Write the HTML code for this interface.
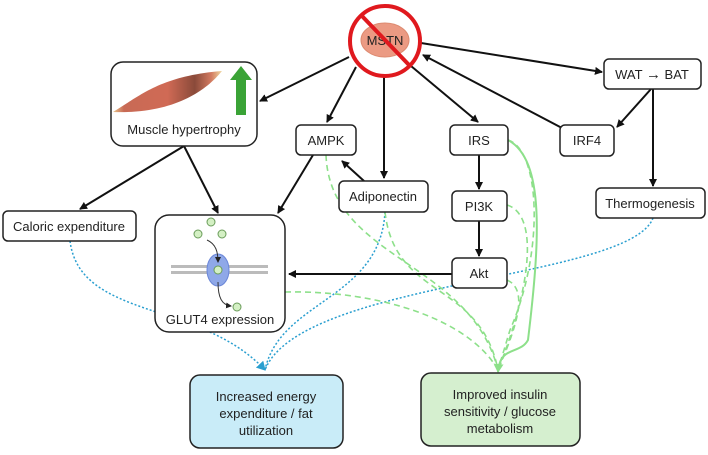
<!DOCTYPE html>
<html><head><meta charset="utf-8"><style>
body{margin:0;background:#fff;}
svg text{font-family:"Liberation Sans",sans-serif;fill:#222;}
</style></head><body>
<svg width="708" height="450" viewBox="0 0 708 450" xmlns="http://www.w3.org/2000/svg">
<defs>
<marker id="a" markerWidth="8" markerHeight="8" refX="7" refY="4" orient="auto" markerUnits="userSpaceOnUse"><path d="M0,0 L8,4 L0,8 z" fill="#111"/></marker>
<marker id="g" markerWidth="10" markerHeight="10" refX="8" refY="5" orient="auto" markerUnits="userSpaceOnUse"><path d="M0,0 L9,5 L0,10 z" fill="#8de08a"/></marker>
<marker id="b" markerWidth="10" markerHeight="10" refX="8" refY="5" orient="auto" markerUnits="userSpaceOnUse"><path d="M0,0 L9,5 L0,10 z" fill="#2a9fd0"/></marker>
<marker id="s" markerWidth="6" markerHeight="6" refX="5" refY="3" orient="auto" markerUnits="userSpaceOnUse"><path d="M0,0 L6,3 L0,6 z" fill="#222"/></marker>
<linearGradient id="m" x1="0" y1="0" x2="1" y2="0"><stop offset="0" stop-color="#e8c48a"/><stop offset="0.1" stop-color="#c86a55"/><stop offset="0.5" stop-color="#d06a55"/><stop offset="0.75" stop-color="#8a4a3a"/><stop offset="0.9" stop-color="#d27a60"/><stop offset="1" stop-color="#f0d9a0"/></linearGradient>
</defs>

<g fill="none" stroke="#2a9fd0" stroke-width="1.5" stroke-dasharray="2,2">
<path d="M70,241 C80,320 200,300 265,370" marker-end="url(#b)"/>
<path d="M385,212 C380,300 280,300 265,370"/>
<path d="M653,218 C630,280 300,280 265,370"/>
</g>
<g fill="none" stroke="#8de08a" stroke-width="1.6" stroke-dasharray="6,4">
<path d="M326,155 C330,260 470,260 498,370"/>
<path d="M385,212 C395,300 480,280 498,370"/>
<path d="M285,292 C380,290 470,320 498,370"/>
<path d="M508,140 C540,150 545,250 510,330 L498,370"/>
<path d="M507,205 C540,215 530,290 498,370"/>
<path d="M507,280 C530,290 515,330 498,370"/>
</g>
<path d="M508,140 C545,160 540,240 528,340 C520,355 500,345 498,372" fill="none" stroke="#8de08a" stroke-width="2" marker-end="url(#g)"/>

<g stroke="#111" stroke-width="2" fill="none" marker-end="url(#a)">
<path d="M349,57 L260,101"/>
<path d="M356,67 L327,122"/>
<path d="M384,76 L384,178"/>
<path d="M411,66 L478,122"/>
<path d="M421,43 L602,72"/>
<path d="M562,128 L423,55"/>
<path d="M651,89 L617,127"/>
<path d="M653,89 L653,186"/>
<path d="M364,181 L342,161"/>
<path d="M313,155 L278,213"/>
<path d="M184,146 L80,209"/>
<path d="M184,146 L218,213"/>
<path d="M479,155 L479,189"/>
<path d="M479,221 L479,256"/>
<path d="M452,274 L289,274"/>
</g>

<ellipse cx="385" cy="40" rx="24" ry="17" fill="#eb9a83" stroke="#dd8a70"/>
<text x="385" y="45" font-size="13" text-anchor="middle">MSTN</text>
<circle cx="385" cy="41" r="35" fill="none" stroke="#e0191e" stroke-width="4"/>
<line x1="361" y1="15" x2="410" y2="66" stroke="#e0191e" stroke-width="4"/>

<g fill="#fff" stroke="#222" stroke-width="1.5">
<rect x="111" y="62" width="146" height="84" rx="12"/>
<rect x="296" y="125" width="60" height="30" rx="5"/>
<rect x="339" y="181" width="89" height="31" rx="5"/>
<rect x="450" y="125" width="58" height="30" rx="5"/>
<rect x="452" y="191" width="55" height="30" rx="5"/>
<rect x="452" y="258" width="55" height="30" rx="5"/>
<rect x="560" y="125" width="54" height="31" rx="5"/>
<rect x="604" y="59" width="97" height="30" rx="5"/>
<rect x="596" y="188" width="109" height="30" rx="5"/>
<rect x="3" y="211" width="133" height="30" rx="5"/>
<rect x="155" y="215" width="130" height="117" rx="14"/>
<rect x="190" y="375" width="153" height="73" rx="10" fill="#c9ecf8"/>
<rect x="421" y="373" width="159" height="73" rx="10" fill="#d5efcf"/>
</g>

<path d="M113,112 C140,96 160,76 222,71 C205,92 172,114 113,112 z" fill="url(#m)"/>
<path d="M236,115 L236,80 L230,80 L241,66 L252,80 L246,80 L246,115 z" fill="#3aa336"/>

<g>
<rect x="171" y="265" width="97" height="3" fill="#bbb"/>
<rect x="171" y="271" width="97" height="3" fill="#bbb"/>
<ellipse cx="218" cy="270" rx="11" ry="16" fill="#8fa8e8" stroke="#6a86d8"/>
<g fill="#d4f0c4" stroke="#6a9c5a" stroke-width="1">
<circle cx="211" cy="222" r="4"/><circle cx="198" cy="234" r="4"/><circle cx="222" cy="234" r="4"/>
<circle cx="218" cy="270" r="4"/><circle cx="237" cy="307" r="4"/>
</g>
<path d="M207,240 C216,244 218,252 218,262" fill="none" stroke="#333" stroke-width="1" marker-end="url(#s)"/>
<path d="M218,282 C218,298 222,305 231,306" fill="none" stroke="#333" stroke-width="1" marker-end="url(#s)"/>
</g>

<g font-size="13" text-anchor="middle">
<text x="184" y="134">Muscle hypertrophy</text>
<text x="326" y="145">AMPK</text>
<text x="383" y="201">Adiponectin</text>
<text x="479" y="145">IRS</text>
<text x="479" y="211">PI3K</text>
<text x="479" y="278">Akt</text>
<text x="587" y="145">IRF4</text>
<text x="652" y="79">WAT <tspan font-weight="bold" font-size="15">→</tspan> BAT</text>
<text x="650" y="208">Thermogenesis</text>
<text x="69" y="231">Caloric expenditure</text>
<text x="220" y="324">GLUT4 expression</text>
<text x="266" y="401">Increased energy</text>
<text x="266" y="418">expenditure / fat</text>
<text x="266" y="435">utilization</text>
<text x="500" y="399">Improved insulin</text>
<text x="500" y="416">sensitivity / glucose</text>
<text x="500" y="433">metabolism</text>
</g>
</svg>
</body></html>
